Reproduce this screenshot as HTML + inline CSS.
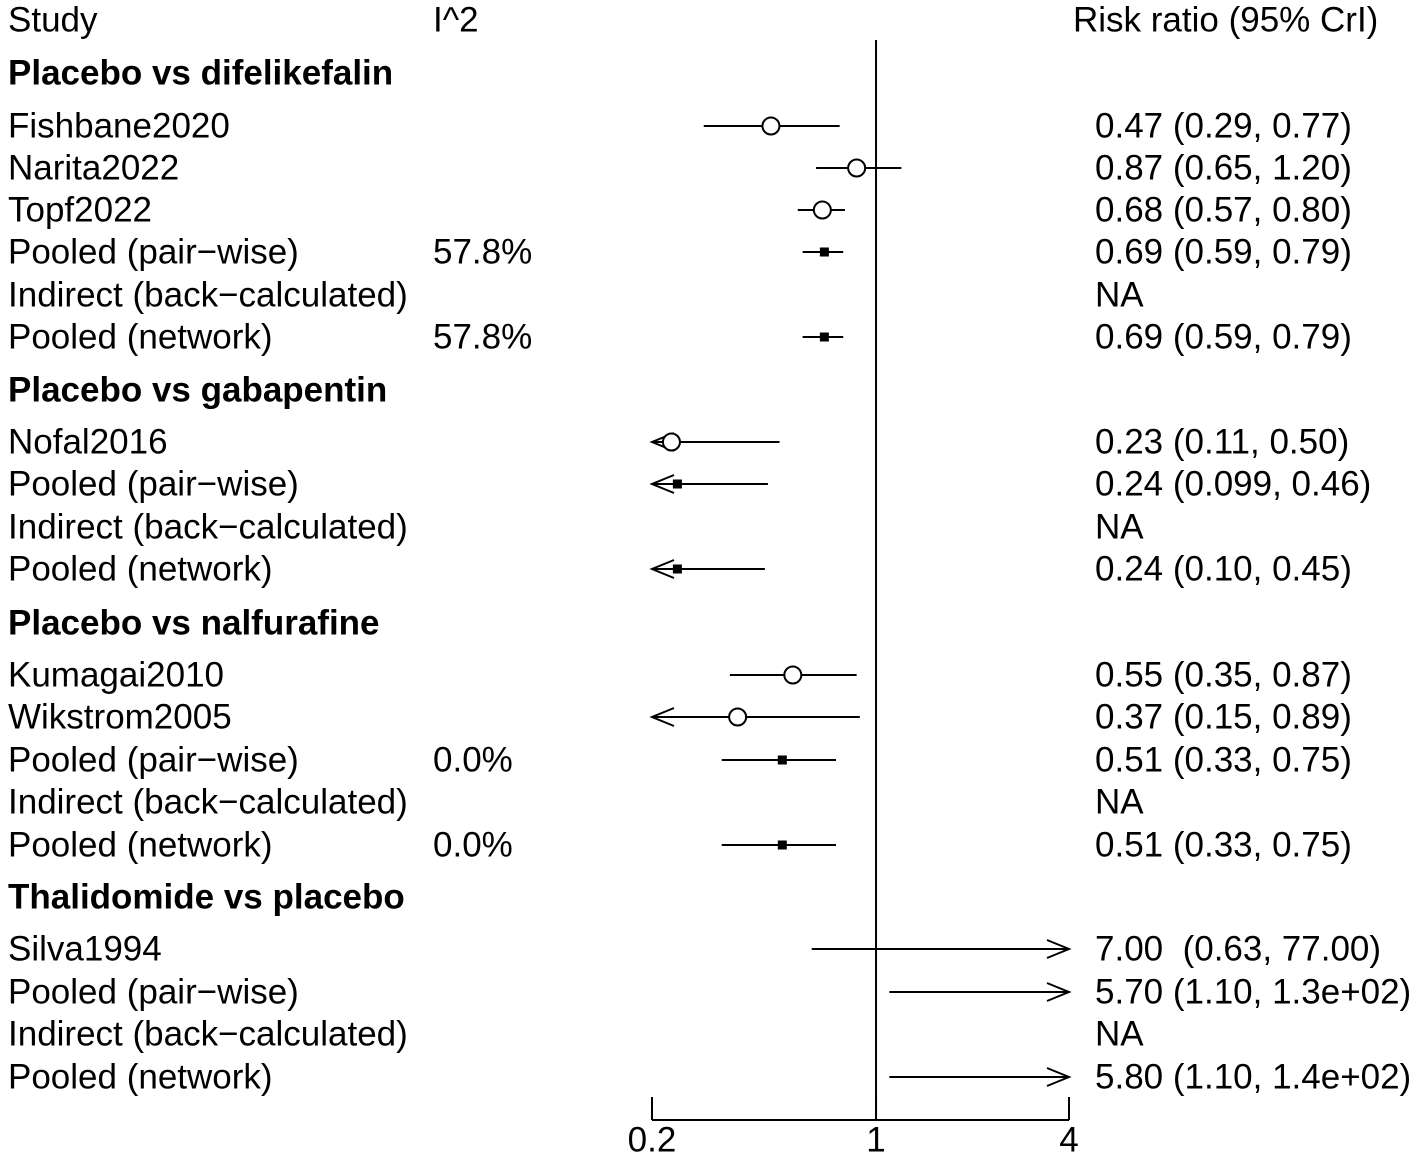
<!DOCTYPE html>
<html><head><meta charset="utf-8"><style>
html,body{margin:0;padding:0;background:#fff;}
svg text{font-family:"Liberation Sans",Arial,sans-serif;font-size:35px;fill:#000;}
</style></head><body>
<svg id="chart" width="1417" height="1159" viewBox="0 0 1417 1159" xmlns="http://www.w3.org/2000/svg"></svg>
<script>
const labels = ["Placebo vs difelikefalin","Fishbane2020","Narita2022","Topf2022","Pooled (pair\u2212wise)","Indirect (back\u2212calculated)","Pooled (network)",
"Placebo vs gabapentin","Nofal2016","Pooled (pair\u2212wise)","Indirect (back\u2212calculated)","Pooled (network)",
"Placebo vs nalfurafine","Kumagai2010","Wikstrom2005","Pooled (pair\u2212wise)","Indirect (back\u2212calculated)","Pooled (network)",
"Thalidomide vs placebo","Silva1994","Pooled (pair\u2212wise)","Indirect (back\u2212calculated)","Pooled (network)"];
const rowY = [73,126,168,210,252,295,337,390,442,484,527,569,623,675,717,760,802,845,897,949,992,1034,1077];
const kinds = ["h","s","s","s","p","n","p","h","s","p","n","p","h","s","s","p","n","p","h","s","p","n","p"];
const est = [null,0.47,0.87,0.68,0.69,null,0.69,null,0.23,0.24,null,0.24,null,0.55,0.37,0.51,null,0.51,null,7.00,5.70,null,5.80];
const lo  = [null,0.29,0.65,0.57,0.59,null,0.59,null,0.11,0.099,null,0.10,null,0.35,0.15,0.33,null,0.33,null,0.63,1.10,null,1.10];
const hi  = [null,0.77,1.20,0.80,0.79,null,0.79,null,0.50,0.46,null,0.45,null,0.87,0.89,0.75,null,0.75,null,77.00,130,null,140];
const i2 = ["","","","","57.8%","","57.8%","","","","","","","","","0.0%","","0.0%","","","","",""];
const ciText = ["","0.47 (0.29, 0.77)","0.87 (0.65, 1.20)","0.68 (0.57, 0.80)","0.69 (0.59, 0.79)","NA","0.69 (0.59, 0.79)","",
"0.23 (0.11, 0.50)","0.24 (0.099, 0.46)","NA","0.24 (0.10, 0.45)","",
"0.55 (0.35, 0.87)","0.37 (0.15, 0.89)","0.51 (0.33, 0.75)","NA","0.51 (0.33, 0.75)","",
"7.00\u00a0 (0.63, 77.00)","5.70 (1.10, 1.3e+02)","NA","5.80 (1.10, 1.4e+02)"];
const ticks = [0.2,1,4];
const tickLabels = ["0.2","1","4"];

const svg = document.getElementById('chart');
const NS = "http://www.w3.org/2000/svg";
const xMin = 0.2, xMax = 4, x0 = 652, x1 = 1069;
function xs(v){ return x0 + (Math.log10(v)-Math.log10(xMin))/(Math.log10(xMax)-Math.log10(xMin))*(x1-x0); }
function mk(tag, attrs, parent){ const e=document.createElementNS(NS,tag); for(const k in attrs) e.setAttribute(k,attrs[k]); (parent||svg).appendChild(e); return e; }
function txt(x,y,s,extra){ const t=mk('text',Object.assign({x:x,y:y,'dominant-baseline':'central'},extra||{})); t.textContent=s; return t; }

let t;
t=txt(8,20,"Study");
 
t=txt(433,20,"I^2");
 
t=txt(1073,20,"Risk ratio (95% CrI)");
 

const ref = mk('line',{x1:xs(1),x2:xs(1),y1:40,y2:1120,stroke:'#000','stroke-width':2});
 

const ax = mk('g',{});
 
mk('line',{x1:xs(ticks[0]),x2:xs(ticks[ticks.length-1]),y1:1120,y2:1120,stroke:'#000','stroke-width':2},ax);
ticks.forEach((v,i)=>{
  mk('line',{x1:xs(v),x2:xs(v),y1:1097,y2:1120,stroke:'#000','stroke-width':2},ax);
  const tl=txt(xs(v),1140,tickLabels[i],{'text-anchor':'middle'});
   
});

function arrowHead(g,x,y,dir){
  mk('polyline',{points:`${x-dir*22},${y-9} ${x},${y} ${x-dir*22},${y+9}`,fill:'none',stroke:'#000','stroke-width':2},g);
}

labels.forEach((lab,i)=>{
  const y=rowY[i];
  const row = mk('g',{});
  
  
  const l = txt(8,y,lab, kinds[i]==='h'?{'font-weight':'bold'}:{});
  row.appendChild(l);
  if(i2[i]){ const e=txt(433,y,i2[i]); row.appendChild(e); }
  if(ciText[i]){ const e=txt(1095,y,ciText[i]); row.appendChild(e); }
  if(est[i]!==null){
    const g = mk('g',{},row);
     
    const a = Math.max(lo[i],xMin), b = Math.min(hi[i],xMax);
    mk('line',{x1:xs(a),x2:xs(b),y1:y,y2:y,stroke:'#000','stroke-width':2},g);
    if(lo[i]<xMin) arrowHead(g,xs(xMin),y,-1);
    if(hi[i]>xMax) arrowHead(g,xs(xMax),y,1);
    if(est[i]>=xMin && est[i]<=xMax){
      if(kinds[i]==='s') mk('circle',{cx:xs(est[i]),cy:y,r:8.5,fill:'#fff',stroke:'#000','stroke-width':2},g);
      else mk('rect',{x:xs(est[i])-4.5,y:y-4.5,width:9,height:9,fill:'#000'},g);
    }
  }
});
</script>
</body></html>
